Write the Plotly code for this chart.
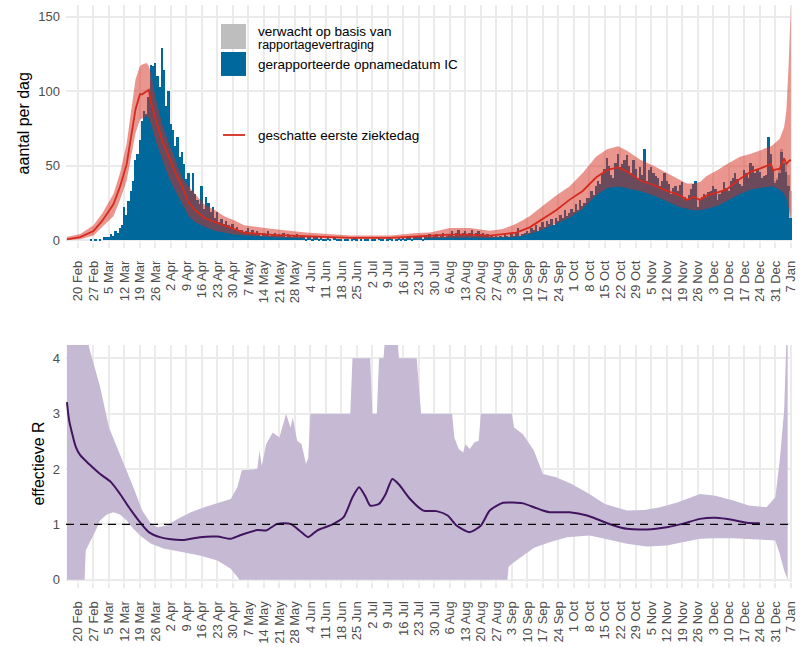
import pandas as pd
import plotly.graph_objects as go

# ---------------- data ----------------
BAR_START = "2020-02-15"
# IC admissions per day (reported admission date), from 15 Feb 2020
BLUE_COUNTS = [
    0, 0, 0, 0, 0,
    0, 0, 0, 0, 0, 0, 1,
    0, 1, 0, 1, 0, 2, 2,
    2, 4, 3, 6, 5, 8, 10,
    22, 17, 26, 33, 40, 54, 58,
    67, 80, 87, 85, 96, 118, 117,
    119, 110, 103, 129, 114, 90, 100,
    78, 74, 63, 69, 56, 59, 51,
    41, 45, 33, 45, 31, 27, 24,
    36, 21, 29, 25, 19, 22, 15,
    19, 12, 14, 11, 13, 10, 9,
    11, 7, 9, 6, 7, 5, 6,
    8, 5, 7, 4, 6, 5, 3,
    5, 4, 6, 3, 4, 5, 3,
    4, 3, 5, 2, 4, 3, 2,
    3, 4, 2, 3, 2, 1, 3,
    2, 1, 2, 3, 1, 2, 1,
    1, 2, 1, 0, 2, 1, 1,
    1, 0, 1, 1, 0, 1, 2,
    1, 0, 1, 0, 1, 1, 0,
    1, 1, 0, 2, 1, 1, 0,
    1, 2, 1, 0, 1, 2, 1,
    2, 1, 2, 3, 1, 2, 2,
    3, 2, 1, 3, 2, 4, 2,
    3, 4, 2, 3, 5, 2, 3,
    4, 6, 3, 5, 7, 4, 5,
    6, 4, 5, 7, 3, 5, 6,
    4, 5, 3, 4, 2, 3, 2,
    3, 2, 3, 2, 4, 3, 2,
    4, 3, 5, 8, 3, 4, 5,
    6, 5, 8, 7, 10, 6, 9,
    12, 9, 13, 11, 14, 10, 15,
    13, 17, 15, 20, 16, 18, 21,
    19, 24, 20, 27, 23, 25, 28,
    28, 33, 30, 36, 40, 38, 45,
    48, 55, 50, 44, 42, 52, 58, 49, 51, 54,
    57, 50, 45, 54, 48, 42, 49, 44, 61, 40,
    47, 49, 45, 43, 42, 36, 40, 45, 40, 38,
    31, 35, 36, 33, 37, 39, 29, 27, 30, 34,
    38, 40, 22, 27, 29, 31, 29, 32, 33, 36,
    34, 27, 31, 33, 39, 35, 33, 40, 42, 45,
    41, 38, 36, 47, 45, 42, 52, 50, 45, 48,
    46, 42, 43, 44, 69, 58, 48, 39, 41, 45,
    59, 52, 46, 36, 15,
]

# expected extra admissions due to reporting delay
GRAY_DATES = ["2020-12-31", "2021-01-01", "2021-01-02", "2021-01-03",
              "2021-01-04", "2021-01-05", "2021-01-06", "2021-01-07"]
GRAY_COUNTS = [1, 1, 2, 2, 3, 5, 8, 18]

# estimated first day of illness: median and band
RED_DATES = [
    "2020-02-15", "2020-02-21", "2020-02-27", "2020-03-02", "2020-03-07",
    "2020-03-10", "2020-03-13", "2020-03-15", "2020-03-17", "2020-03-19",
    "2020-03-20", "2020-03-22", "2020-03-23", "2020-03-24", "2020-03-26",
    "2020-03-29", "2020-04-01", "2020-04-04", "2020-04-07", "2020-04-10",
    "2020-04-13", "2020-04-17", "2020-04-22", "2020-04-26", "2020-05-01",
    "2020-05-05", "2020-05-18", "2020-06-02", "2020-06-22", "2020-07-10",
    "2020-07-22", "2020-07-28", "2020-08-06", "2020-08-15", "2020-08-24",
    "2020-08-30", "2020-09-05", "2020-09-11", "2020-09-17", "2020-09-23",
    "2020-09-29", "2020-10-05", "2020-10-11", "2020-10-16", "2020-10-21",
    "2020-10-25", "2020-10-31", "2020-11-06", "2020-11-12", "2020-11-18",
    "2020-11-21", "2020-11-24", "2020-11-27", "2020-11-30", "2020-12-05",
    "2020-12-09", "2020-12-15", "2020-12-20", "2020-12-24", "2020-12-29",
    "2020-12-30", "2021-01-02", "2021-01-04", "2021-01-05", "2021-01-06",
    "2021-01-07",
]
RED_MID = [
    0.5, 2, 6, 13, 24, 36, 51, 69, 88, 98,
    98, 100, 101, 92, 81, 67, 56, 45, 36, 25,
    20, 15, 12, 10, 7, 5, 3.4, 2.5, 1.4, 1.4,
    2.5, 3, 3.6, 3.6, 3, 4, 5, 8.5, 14, 20,
    27, 33, 42, 47, 49, 46, 40, 37, 33, 30,
    27, 29, 27, 30, 32, 34, 41, 46, 48, 51,
    47, 48, 55, 51, 53, 54,
]
RED_LO = [
    0, 0.5, 3, 9, 16, 27, 40, 56, 72, 81,
    82, 83, 82, 78, 67, 54, 42, 33, 24, 16,
    12, 9, 6, 5, 3.6, 3, 1.8, 1.1, 0.7, 0.7,
    1.1, 1.4, 1.6, 1.6, 1.4, 1.8, 2, 4, 7, 11,
    15, 21, 30, 35, 36, 35, 33, 30, 26, 22,
    21, 20, 20, 21, 23, 26, 31, 34, 35, 36,
    36, 34, 31, 28, 22, 15,
]
RED_HI = [
    2, 4, 10, 18, 31, 45, 65, 87, 108, 117,
    118, 119, 117, 112, 96, 78, 65, 54, 42, 36,
    31, 24, 20, 16, 13, 10, 7.4, 5, 3, 3,
    4.7, 5, 8, 8, 6.3, 7.4, 11, 16, 23, 30,
    36, 45, 56, 61, 63, 60, 54, 50, 45, 40,
    38, 38, 39, 43, 47, 51, 56, 58, 60, 63,
    64, 68, 76, 87, 117, 157,
]

# effective reproduction number
R_DATES = [
    "2020-02-15", "2020-02-16", "2020-02-19", "2020-02-21", "2020-02-25",
    "2020-03-01", "2020-03-06", "2020-03-10", "2020-03-14", "2020-03-19",
    "2020-03-23", "2020-03-28", "2020-04-02", "2020-04-08", "2020-04-15",
    "2020-04-23", "2020-04-29", "2020-05-03", "2020-05-11", "2020-05-15",
    "2020-05-20", "2020-05-26", "2020-05-30", "2020-06-03", "2020-06-07",
    "2020-06-14", "2020-06-19", "2020-06-23", "2020-06-26", "2020-06-29",
    "2020-07-01", "2020-07-05", "2020-07-08", "2020-07-11", "2020-07-14",
    "2020-07-19", "2020-07-25", "2020-07-31", "2020-08-05", "2020-08-09",
    "2020-08-15", "2020-08-20", "2020-08-24", "2020-08-30", "2020-09-08",
    "2020-09-13", "2020-09-17", "2020-09-20", "2020-09-29", "2020-10-07",
    "2020-10-13", "2020-10-19", "2020-10-25", "2020-11-03", "2020-11-12",
    "2020-11-19", "2020-11-27", "2020-12-04", "2020-12-12", "2020-12-18",
    "2020-12-24",
]
R_MID = [
    3.21, 2.88, 2.40, 2.25, 2.09, 1.91, 1.76, 1.55, 1.31, 1.04,
    0.86, 0.77, 0.73, 0.72, 0.77, 0.78, 0.74, 0.80, 0.90, 0.89,
    1.01, 1.01, 0.89, 0.77, 0.89, 1.00, 1.13, 1.49, 1.67, 1.49,
    1.34, 1.37, 1.55, 1.82, 1.72, 1.46, 1.25, 1.24, 1.16, 0.98,
    0.86, 0.98, 1.25, 1.39, 1.38, 1.31, 1.25, 1.22, 1.22, 1.16,
    1.07, 0.98, 0.92, 0.91, 0.95, 1.01, 1.10, 1.12, 1.08, 1.03,
    1.02,
]
R_UP_DATES = [
    "2020-02-15", "2020-02-24", "2020-02-25", "2020-03-01", "2020-03-05",
    "2020-03-10", "2020-03-16", "2020-03-20", "2020-03-24", "2020-03-27",
    "2020-03-31", "2020-04-05", "2020-04-11", "2020-04-17", "2020-04-23",
    "2020-04-29", "2020-05-02", "2020-05-04", "2020-05-11", "2020-05-12",
    "2020-05-13", "2020-05-15", "2020-05-18", "2020-05-21", "2020-05-24",
    "2020-05-26", "2020-05-27", "2020-05-29", "2020-05-31", "2020-06-02",
    "2020-06-03", "2020-06-04", "2020-06-22", "2020-06-23", "2020-07-01",
    "2020-07-02", "2020-07-04", "2020-07-05", "2020-07-07", "2020-07-08",
    "2020-07-13", "2020-07-14", "2020-07-22", "2020-07-24", "2020-08-07",
    "2020-08-08", "2020-08-10", "2020-08-12", "2020-08-13", "2020-08-15",
    "2020-08-17", "2020-08-19", "2020-08-20", "2020-09-03", "2020-09-04",
    "2020-09-08", "2020-09-13", "2020-09-17", "2020-09-23", "2020-09-30",
    "2020-10-08", "2020-10-15", "2020-10-25", "2020-11-02", "2020-11-09",
    "2020-11-17", "2020-11-27", "2020-12-04", "2020-12-12", "2020-12-19",
    "2020-12-27", "2020-12-31", "2021-01-02", "2021-01-04", "2021-01-05",
    "2021-01-05 14:00",
]
R_UP = [
    6.0, 4.7, 4.2, 3.48, 2.75, 2.27, 1.67, 1.25, 1.01, 0.95,
    0.98, 1.10, 1.22, 1.31, 1.38, 1.46, 1.67, 1.98, 2.0, 2.33,
    2.06, 2.45, 2.66, 2.57, 3.0, 2.75, 2.93, 2.51, 2.45, 2.09,
    2.2, 3.0, 3.0, 4.0, 4.0, 3.0, 3.0, 4.0, 4.0, 4.5,
    4.5, 4.0, 4.0, 3.0, 3.0, 2.57, 2.36, 2.30, 2.45, 2.36,
    2.48, 2.51, 3.0, 3.0, 2.75, 2.63, 2.33, 1.91, 1.85, 1.73,
    1.55, 1.37, 1.25, 1.26, 1.31, 1.40, 1.55, 1.52, 1.43, 1.34,
    1.31, 1.49, 2.15, 3.06, 4.3, 5.0,
]
R_LO_DATES = [
    "2020-02-15", "2020-02-23", "2020-02-23 12:00", "2020-02-25", "2020-02-28",
    "2020-03-01", "2020-03-04", "2020-03-07", "2020-03-10", "2020-03-13",
    "2020-03-16", "2020-03-20", "2020-03-24", "2020-03-30", "2020-04-07",
    "2020-04-15", "2020-04-23", "2020-04-29", "2020-05-02", "2020-05-03",
    "2020-09-01", "2020-09-01 12:00", "2020-09-03", "2020-09-08", "2020-09-13",
    "2020-09-20", "2020-09-28", "2020-10-08", "2020-10-15", "2020-10-25",
    "2020-11-03", "2020-11-12", "2020-11-19", "2020-11-27", "2020-12-04",
    "2020-12-12", "2020-12-19", "2020-12-27", "2020-12-31", "2021-01-02",
    "2021-01-04", "2021-01-05 14:00",
]
R_LO = [
    0, 0, 0.53, 0.65, 0.89, 1.07, 1.18, 1.22, 1.18, 1.07,
    0.92, 0.77, 0.65, 0.56, 0.50, 0.44, 0.35, 0.20, 0.05, 0,
    0, 0.23, 0.29, 0.44, 0.58, 0.68, 0.77, 0.80, 0.74, 0.65,
    0.60, 0.62, 0.68, 0.74, 0.75, 0.75, 0.74, 0.72, 0.71, 0.47,
    0.17, 0,
]

TICK_START = "2020-02-20"
TICK_LABELS = [
    "20 Feb", "27 Feb", "5 Mar", "12 Mar", "19 Mar", "26 Mar", "2 Apr", "9 Apr",
    "16 Apr", "23 Apr", "30 Apr", "7 May", "14 May", "21 May", "28 May", "4 Jun",
    "11 Jun", "18 Jun", "25 Jun", "2 Jul", "9 Jul", "16 Jul", "23 Jul", "30 Jul",
    "6 Aug", "13 Aug", "20 Aug", "27 Aug", "3 Sep", "10 Sep", "17 Sep", "24 Sep",
    "1 Oct", "8 Oct", "15 Oct", "22 Oct", "29 Oct", "5 Nov", "12 Nov", "19 Nov",
    "26 Nov", "3 Dec", "10 Dec", "17 Dec", "24 Dec", "31 Dec", "7 Jan",
]
Y1_TICKS = [0, 50, 100, 150]
Y2_TICKS = [0, 1, 2, 3, 4]

# ---------------- styling ----------------
C_BLUE = "#01689B"
C_GRAY = "#BEBEBE"
C_RED = "#D52B1E"
C_RED_BAND = "rgba(213,43,30,0.5)"
C_PURPLE = "#42145F"
C_PURPLE_BAND = "#C5B9D3"
GRID = "#EBEBEB"
FONT = "Liberation Sans, Arial, Helvetica, sans-serif"
TICKFONT = dict(family=FONT, size=13, color="#4D4D4D")

bar_dates = pd.date_range(BAR_START, periods=len(BLUE_COUNTS), freq="D")
tick_dates = pd.date_range(TICK_START, periods=len(TICK_LABELS), freq="7D")

fig = go.Figure()

fig.add_trace(go.Bar(x=bar_dates, y=BLUE_COUNTS, marker=dict(color=C_BLUE, line=dict(width=0)),
                     name="gerapporteerde opnamedatum IC", showlegend=False, xaxis="x", yaxis="y"))
fig.add_trace(go.Bar(x=pd.to_datetime(GRAY_DATES), y=GRAY_COUNTS,
                     marker=dict(color=C_GRAY, line=dict(width=0)),
                     name="verwacht op basis van rapportagevertraging", showlegend=False,
                     xaxis="x", yaxis="y"))

band_x = list(RED_DATES) + list(RED_DATES[::-1])
band_y = list(RED_HI) + list(RED_LO[::-1])
fig.add_trace(go.Scatter(x=band_x, y=band_y, fill="toself", fillcolor=C_RED_BAND,
                         line=dict(width=0), mode="lines", hoverinfo="skip",
                         showlegend=False, xaxis="x", yaxis="y"))
fig.add_trace(go.Scatter(x=RED_DATES, y=RED_MID, mode="lines",
                         line=dict(color=C_RED, width=1.8),
                         name="geschatte eerste ziektedag", showlegend=False,
                         xaxis="x", yaxis="y"))

rb_x = list(R_UP_DATES) + list(R_LO_DATES[::-1])
rb_y = list(R_UP) + list(R_LO[::-1])
fig.add_trace(go.Scatter(x=rb_x, y=rb_y, fill="toself", fillcolor=C_PURPLE_BAND,
                         line=dict(width=0), mode="lines", hoverinfo="skip",
                         showlegend=False, xaxis="x2", yaxis="y2"))
fig.add_trace(go.Scatter(x=R_DATES, y=R_MID, mode="lines",
                         line=dict(color=C_PURPLE, width=2, shape="spline", smoothing=0.6),
                         name="effectieve R", showlegend=False, xaxis="x2", yaxis="y2"))

x_range = ["2020-02-14 14:00", "2021-01-07 13:00"]
xaxis_common = dict(
    type="date", range=x_range, tickmode="array", tickvals=tick_dates, ticktext=TICK_LABELS,
    tickangle=-90, tickfont=TICKFONT, showgrid=True, gridcolor=GRID, gridwidth=1.5,
    ticks="outside", ticklen=5, tickwidth=1.5, tickcolor=GRID, zeroline=False,
    showline=False, automargin=False, ticklabelstandoff=8,
)
yaxis_common = dict(
    tickfont=dict(family=FONT, size=13, color="#4D4D4D"), showgrid=True, gridcolor=GRID,
    gridwidth=1.5, zeroline=False, showline=False, ticks="", automargin=False,
    ticklabelstandoff=5,
)

fig.update_layout(
    width=801, height=647,
    margin=dict(l=66, r=9, t=5, b=65),
    plot_bgcolor="white", paper_bgcolor="white",
    barmode="stack", bargap=0.12,
    showlegend=False,
    font=dict(family=FONT, color="black"),
    xaxis=dict(domain=[0, 1], anchor="y", **xaxis_common),
    yaxis=dict(domain=[0.5901, 1], anchor="x", range=[-1, 158], tickvals=Y1_TICKS,
               title=dict(text="aantal per dag", font=dict(family=FONT, size=16, color="black"),
                          standoff=4),
               **yaxis_common),
    xaxis2=dict(domain=[0, 1], anchor="y2", **xaxis_common),
    yaxis2=dict(domain=[0, 0.4107], anchor="x2", range=[-0.04, 4.24], tickvals=Y2_TICKS,
                title=dict(text="effectieve R", font=dict(family=FONT, size=16, color="black"),
                           standoff=4),
                **yaxis_common),
)

# dashed reference line R = 1
fig.add_shape(type="line", xref="x2 domain", x0=0, x1=1, yref="y2", y0=1, y1=1,
              line=dict(color="black", width=1.3, dash="8px,6px"), layer="above")

# manual legend inside top panel (paper coordinates)
fig.add_shape(type="rect", xref="paper", yref="paper", x0=0.2135, x1=0.2479,
              y0=0.9237, y1=0.9671, fillcolor=C_GRAY, line=dict(width=0))
fig.add_shape(type="rect", xref="paper", yref="paper", x0=0.2135, x1=0.2479,
              y0=0.8770, y1=0.9185, fillcolor=C_BLUE, line=dict(width=0))
fig.add_shape(type="line", xref="paper", yref="paper", x0=0.2163, x1=0.2466,
              y0=0.7747, y1=0.7747, line=dict(color=C_RED, width=1.8))
legend_font = dict(family=FONT, size=13.5, color="black")
fig.add_annotation(xref="paper", yref="paper", x=0.2617, y=0.9549, xanchor="left",
                   yanchor="middle", text="verwacht op basis van", showarrow=False,
                   font=legend_font)
fig.add_annotation(xref="paper", yref="paper", x=0.2617, y=0.9307, xanchor="left",
                   yanchor="middle", text="rapportagevertraging", showarrow=False,
                   font=dict(family=FONT, size=12.5, color="black"))
fig.add_annotation(xref="paper", yref="paper", x=0.2617, y=0.8969, xanchor="left",
                   yanchor="middle", text="gerapporteerde opnamedatum IC", showarrow=False,
                   font=legend_font)
fig.add_annotation(xref="paper", yref="paper", x=0.2617, y=0.7730, xanchor="left",
                   yanchor="middle", text="geschatte eerste ziektedag", showarrow=False,
                   font=legend_font)

# remove the default 8px page margin so the figure sits at the window's top-left corner
fig.write_html("out.html", config={"displayModeBar": False},
               post_script="document.body.style.margin='0';")
